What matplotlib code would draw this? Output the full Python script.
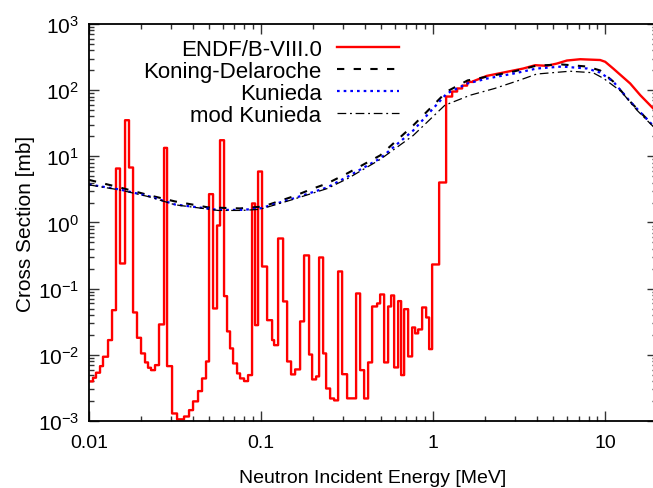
import numpy as np
import matplotlib
matplotlib.use('Agg')
import matplotlib.pyplot as plt
from matplotlib.ticker import LogLocator, FixedLocator, FixedFormatter, NullFormatter, LogFormatterMathtext

plt.rcParams['font.family'] = ['Liberation Sans', 'DejaVu Sans']
plt.rcParams['mathtext.default'] = 'regular'

# ENDF/B-VIII.0 - group edges (MeV) and group values (mb) of the resonance part
endf_edges = [0.01000, 0.01055, 0.01098, 0.01159, 0.01206, 0.01290, 0.01361, 0.01435, 0.01514, 0.01620,
              0.01708, 0.01803, 0.01901, 0.02006, 0.02116, 0.02203, 0.02293, 0.02419, 0.02552, 0.02730,
              0.02842, 0.03039, 0.03249, 0.03567, 0.03814, 0.04024, 0.04302, 0.04539, 0.04788, 0.04985,
              0.05259, 0.05548, 0.05775, 0.06093, 0.06343, 0.06603, 0.06874, 0.07252, 0.07549, 0.07964,
              0.08402, 0.08864, 0.09228, 0.09607, 0.1013, 0.1084, 0.1159, 0.1190, 0.1256, 0.1343,
              0.1417, 0.1494, 0.1577, 0.1686, 0.1778, 0.1901, 0.1980, 0.2089, 0.2174, 0.2294,
              0.2388, 0.2519, 0.2658, 0.2804, 0.2958, 0.3162, 0.3567, 0.3764, 0.3971, 0.4189,
              0.4419, 0.4725, 0.4920, 0.5190, 0.5475, 0.5700, 0.5934, 0.6260, 0.6516, 0.6783,
              0.7157, 0.7551, 0.7861, 0.8183, 0.8630, 0.9107, 0.9479, 0.9867, 1.0837, 1.190,
              1.290, 1.379, 1.474, 1.576, 1.709]
endf_groups = [0.00397, 0.00451, 0.00537, 0.00675, 0.00936, 0.0167, 0.0473, 6.54, 0.240, 35.1,
               6.77, 0.0437, 0.0181, 0.0105, 0.00768, 0.00638, 0.00587, 0.00699, 0.0288, 13.4,
               0.00675, 0.0013, 0.00106, 0.00117, 0.00146, 0.00198, 0.00283, 0.0044, 0.00794, 2.68,
               0.0502, 0.90, 17.5, 0.0771, 0.0226, 0.0125, 0.00742, 0.00524, 0.0044, 0.00401,
               0.00494, 1.94, 0.0281, 5.89, 0.216, 0.0334, 0.0167, 0.0140, 0.573, 0.0641,
               0.00794, 0.00506, 0.00602, 0.0320, 0.318, 0.0101, 0.00425, 0.00472, 0.296, 0.0105,
               0.0031, 0.00219, 0.00205, 0.182, 0.0051, 0.0022, 0.0846, 0.00587, 0.00219, 0.00768,
               0.0538, 0.0598, 0.0817, 0.00768, 0.0538, 0.0789, 0.00645, 0.0648, 0.00494, 0.0490,
               0.00946, 0.0259, 0.0211, 0.0242, 0.0520, 0.0367, 0.0122, 0.232, 4.02,
               80, 95.2, 106, 117, 133]
# ENDF/B-VIII.0 - continuum part
endf_e = [1.709, 2.05, 2.68, 3.34, 3.92, 4.58, 5.24, 5.99, 7.16, 9.35, 10.0, 11.13, 13.97, 15.98, 19.0, 20.0]
endf_xs = [136, 164, 189, 212, 238, 233, 252, 280, 293, 285, 268, 212, 126, 84, 53, 48]

# Koning-Delaroche
kd_e = [0.01, 0.0151, 0.0226, 0.0316, 0.0492, 0.0755, 0.1025, 0.1535, 0.2007, 0.2419, 0.3162, 0.492,
        0.7656, 1.2, 1.585, 2.07, 2.94, 4.0, 5.6, 7.86, 9.35, 11.13, 13.97, 19.0, 20.0]
kd_xs = [4.4, 3.38, 2.56, 2.08, 1.69, 1.63, 1.74, 2.47, 3.26, 3.88, 5.50, 10.3,
         29.2, 95, 140, 160, 191, 235, 244, 227, 198, 135, 67, 29.2, 27]

# Kunieda
ku_e = [0.01, 0.0151, 0.0226, 0.0316, 0.0563, 0.0774, 0.0986, 0.1535, 0.2419, 0.3193, 0.492, 0.7656,
        1.2, 1.585, 2.07, 2.94, 4.0, 5.6, 7.86, 9.35, 11.13, 13.97, 19.0, 20.0]
ku_xs = [3.75, 3.15, 2.47, 1.87, 1.55, 1.55, 1.63, 2.30, 3.38, 4.95, 9.27, 24.5,
         88.9, 126, 150, 178, 212, 227, 212, 184, 135, 67, 29, 27]

# mod Kunieda
mk_e = [0.01, 0.0151, 0.0226, 0.0316, 0.0563, 0.0774, 0.0986, 0.1535, 0.2419, 0.3193, 0.492, 0.7656,
        1.17, 1.641, 2.28, 3.17, 4.0, 6.24, 8.5, 9.8, 12.4, 15.3, 19.0, 20.0]
mk_xs = [3.7, 3.1, 2.43, 1.85, 1.52, 1.52, 1.58, 2.23, 3.25, 4.62, 8.95, 20.6,
         59.1, 83.7, 106, 141, 175, 193, 183, 150, 95, 49.7, 28.2, 26]

xticks = [0.01, 0.1, 1, 10]
xticklabels = ['0.01', '0.1', '1', '10']

# build the step outline of the group data, then add the continuum
step_x = np.repeat(endf_edges, 2)[1:-1]
step_y = np.repeat(endf_groups, 2)
red_x = np.concatenate([step_x, endf_e])
red_y = np.concatenate([step_y, endf_xs])

fig = plt.figure(figsize=(6.53, 4.89), dpi=100)
ax = fig.add_axes([0.1363, 0.137, 0.8698, 0.812])

ax.plot(red_x, red_y, color='#ff0000', lw=1.7, label='ENDF/B-VIII.0')
ax.plot(kd_e, kd_xs, color='black', lw=1.5, dashes=(3.5, 4.5), label='Koning-Delaroche')
ax.plot(ku_e, ku_xs, color='#0000ff', lw=1.6, dashes=(1.2, 1.8), label='Kunieda')
ax.plot(mk_e, mk_xs, color='black', lw=0.9, dashes=(7, 3, 1.5, 3), label='mod Kunieda')

ax.set_xscale('log')
ax.set_yscale('log')
ax.set_xlim(0.01, 20)
ax.set_ylim(1e-3, 1e3)

ax.xaxis.set_major_locator(FixedLocator(xticks))
ax.xaxis.set_major_formatter(FixedFormatter(xticklabels))
ax.xaxis.set_minor_locator(LogLocator(base=10, subs=np.arange(2, 10), numticks=20))
ax.xaxis.set_minor_formatter(NullFormatter())
ax.yaxis.set_major_locator(LogLocator(base=10, numticks=10))
ax.yaxis.set_major_formatter(LogFormatterMathtext())
ax.yaxis.set_minor_locator(LogLocator(base=10, subs=np.arange(2, 10), numticks=20))
ax.yaxis.set_minor_formatter(NullFormatter())

ax.tick_params(which='both', direction='in', top=True, right=True, width=1.0, color='#333333')
ax.tick_params(which='major', length=7)
ax.tick_params(axis='x', which='major', pad=9, labelsize=14)
ax.tick_params(axis='y', which='major', pad=7, labelsize=15)
ax.tick_params(which='minor', length=3.6)
for s in ax.spines.values():
    s.set_linewidth(1.3)

ax.set_xlabel('Neutron Incident Energy [MeV]', fontsize=14, labelpad=13)
ax.set_ylabel('Cross Section [mb]', fontsize=15, labelpad=2)

ax.legend(loc='upper right', bbox_to_anchor=(0.566, 0.99), frameon=False, markerfirst=False,
          fontsize=16, handlelength=2.8, handletextpad=0.7, labelspacing=0.04, borderpad=0)

fig.savefig('out.png', dpi=100)
